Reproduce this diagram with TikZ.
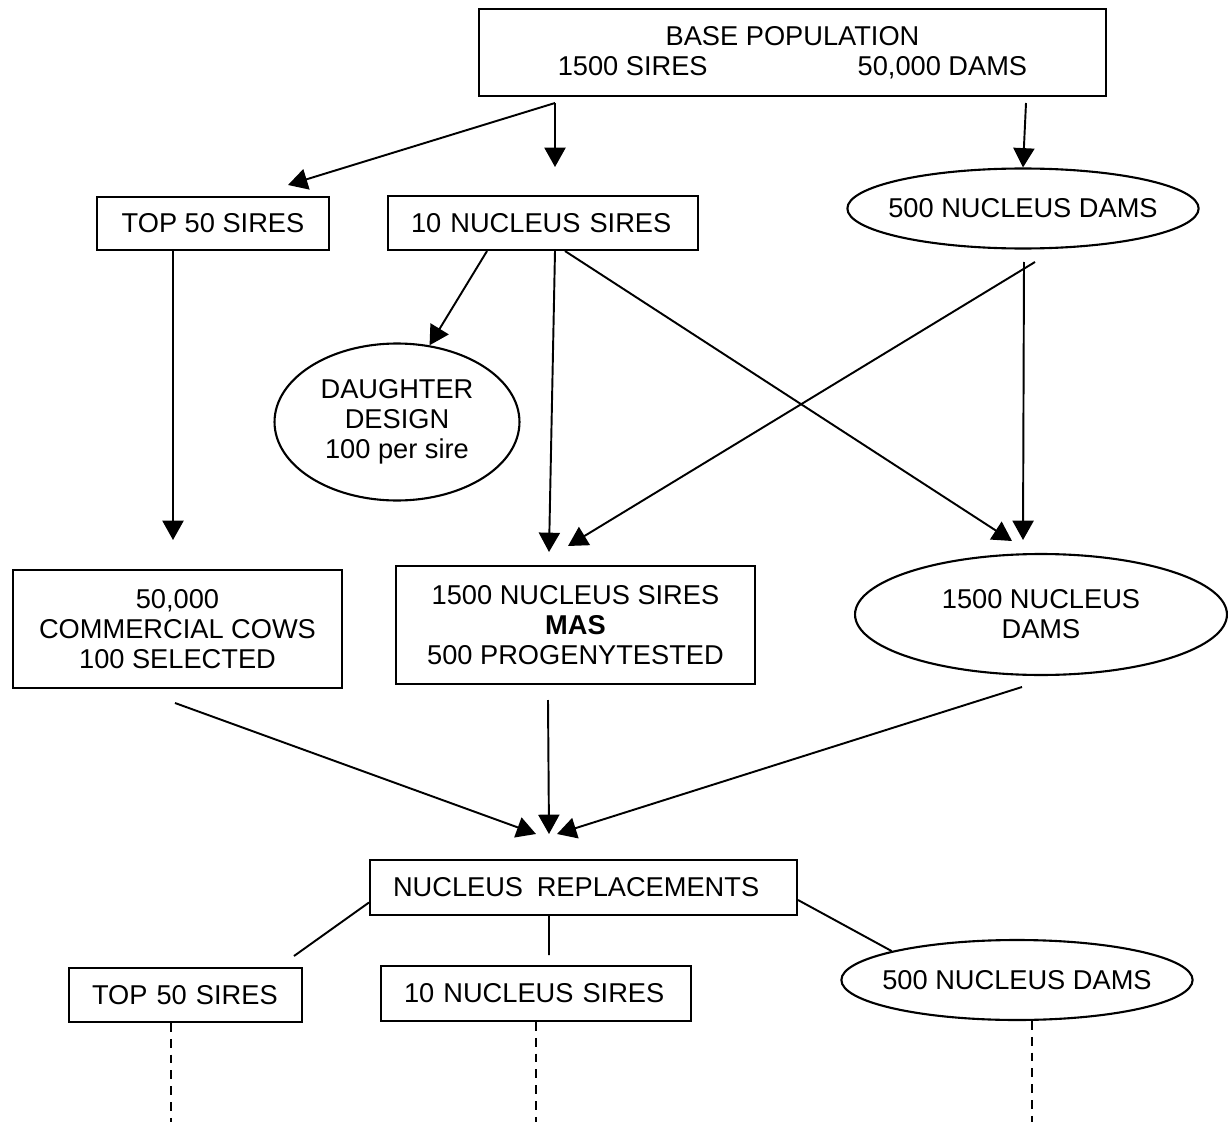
\documentclass[tikz,border=0pt]{standalone}
\usepackage{fontspec}
\setmainfont{Liberation Sans}
\usetikzlibrary{arrows.meta,shapes.geometric}

\tikzset{
  txt/.style={font=\fontsize{15.5pt}{17pt}\selectfont},
  box/.style={txt, draw, line width=1.2pt, inner sep=0pt, align=center},
  padbox/.style={txt, draw, line width=1.2pt, inner xsep=0.46cm, inner ysep=0pt, align=left},
  oval/.style={txt, draw, ellipse, line width=1.2pt, inner sep=0pt, align=center},
  flatoval/.style={oval, inner xsep=-0.21cm, minimum width=7cm, minimum height=1.6cm},
  arr/.style={line width=1.1pt, -{Triangle[width=12pt,length=11pt]}},
  link/.style={line width=1.1pt},
  drop/.style={line width=0.8pt, dash pattern=on 5pt off 4pt}
}

\begin{document}
\begin{tikzpicture}[x=0.02cm, y=-0.02cm]
\useasboundingbox (0,0) rectangle (1228,1122);

% nodes
\node[box, minimum width=12.54cm, minimum height=1.74cm] (base) at (792.5,52.5)
  {BASE POPULATION\\1500 SIRES\hspace{3cm}50,000 DAMS};
\node[box, minimum width=4.64cm, minimum height=1.06cm] (top50) at (213,223.5) {TOP 50 SIRES};
\node[padbox, text width=5.28cm, minimum height=1.08cm] (nsires) at (543,223) {10 NUCLEUS SIRES};
\node[flatoval] (dams1) at (1023,208.5) {500 NUCLEUS DAMS};
\node[oval, minimum width=4.9cm, minimum height=3.14cm] (daughter) at (397,422)
  {DAUGHTER\\DESIGN\\100 per sire};
\node[box, minimum width=6.58cm, minimum height=2.36cm] (cows) at (177.5,629)
  {50,000\\COMMERCIAL COWS\\100 SELECTED};
\node[box, minimum width=7.18cm, minimum height=2.36cm] (mas) at (575.5,625)
  {1500 NUCLEUS SIRES\\\textbf{MAS}\\500 PROGENYTESTED};
\node[oval, minimum width=7.44cm, minimum height=2.42cm] (dams2) at (1041,614.5)
  {1500 NUCLEUS\\DAMS};
\node[padbox, text width=7.62cm, minimum height=1.1cm] (repl) at (583.5,887.5)
  {NUCLEUS\hspace{0.5em}REPLACEMENTS};
\node[padbox, text width=3.74cm, minimum height=1.08cm] (top50b) at (185.5,995) {TOP 50 SIRES};
\node[padbox, text width=5.28cm, minimum height=1.1cm] (nsires2) at (536,993.5) {10 NUCLEUS SIRES};
\node[flatoval] (dams3) at (1017,980) {500 NUCLEUS DAMS};

% free ends
\coordinate (split) at (555,103);
\coordinate (t50tip) at (288,185);
\coordinate (nstip) at (555,167);
\coordinate (dsplit) at (1026,103);
\coordinate (mastip) at (549,552);
\coordinate (dams2tip) at (1012,541);
\coordinate (dcross) at (1035,262);
\coordinate (mastipb) at (568,546);
\coordinate (ddown) at (1024,262);
\coordinate (dams2tipb) at (1023,540);
\coordinate (cowstip) at (173,540);
\coordinate (cowsout) at (175,703);
\coordinate (masout) at (548,700);
\coordinate (damsout) at (1022,687);
\coordinate (repltipa) at (536,834);
\coordinate (repltipb) at (549,834);
\coordinate (repltipc) at (557,834);
\coordinate (t50bend) at (294,956);
\coordinate (ns2end) at (549,955);
\coordinate (bottom) at (0,1122);

% arrows
\draw[arr] (split) -- (t50tip);
\draw[arr] (split) -- (nstip);
\draw[arr] (dsplit) -- (dams1.north);
\draw[arr] ([xshift=-1.12cm]nsires.south) -- (daughter.67);
\draw[arr] ([xshift=0.24cm]nsires.south) -- (mastip);
\draw[arr] ([xshift=0.44cm]nsires.south) -- (dams2tip);
\draw[arr] (dcross) -- (mastipb);
\draw[arr] (ddown) -- (dams2tipb);
\draw[arr] ([xshift=-0.8cm]top50.south) -- (cowstip);
\draw[arr] (cowsout) -- (repltipa);
\draw[arr] (masout) -- (repltipb);
\draw[arr] (damsout) -- (repltipc);

% replacements
\draw[link] ([yshift=-0.3cm]repl.west) -- (t50bend);
\draw[link] ([xshift=-0.69cm]repl.south) -- (ns2end);
\draw[link] ([yshift=-0.25cm]repl.east) -- (dams3.167);
\draw[drop] ([xshift=-0.29cm]top50b.south) -- ([xshift=-0.29cm]top50b.south |- bottom);
\draw[drop] (nsires2.south) -- (nsires2.south |- bottom);
\draw[drop] ([xshift=0.3cm]dams3.south) -- ([xshift=0.3cm]dams3.south |- bottom);
\end{tikzpicture}
\end{document}
